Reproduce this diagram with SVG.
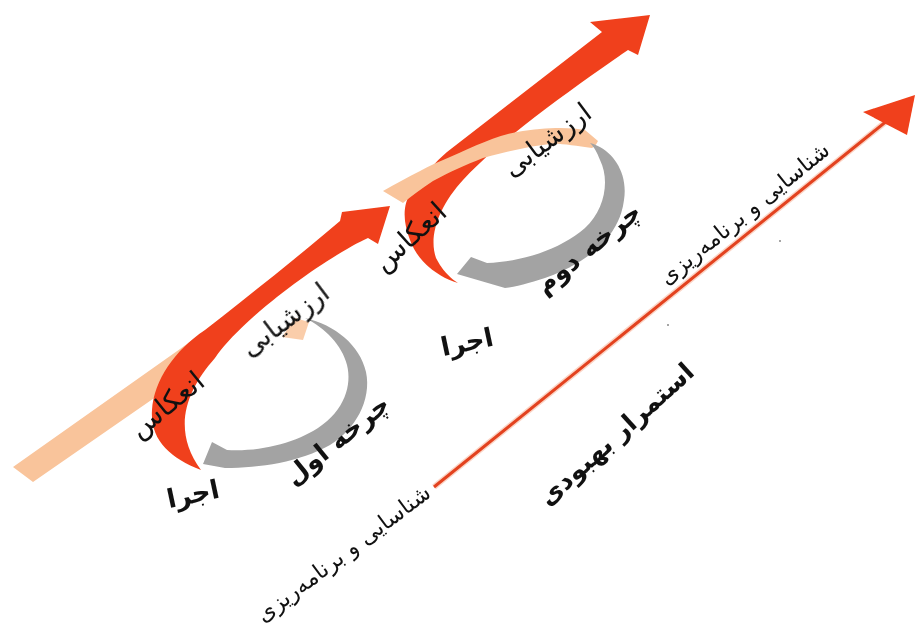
<svg xmlns="http://www.w3.org/2000/svg" width="915" height="630" viewBox="0 0 915 630">
<defs>
<style>
.red{fill:#f0401a}
.peach{fill:#f9c49b}
.gray{fill:#a3a3a3}
.t{font-family:"DejaVu Sans","Noto Sans",sans-serif;fill:#111;text-anchor:middle}
.s1{font-size:28px}
.s2{font-size:27px}
.s3{font-size:22.5px}
.big{font-size:26px;font-weight:bold}
.big2{font-size:25.5px;font-weight:bold}
</style>
<filter id="soft" x="-5%" y="-5%" width="110%" height="110%"><feGaussianBlur stdDeviation="0.7"/></filter>
</defs>
<rect width="915" height="630" fill="#ffffff"/>
<g id="cycle1" filter="url(#soft)">
<path class="peach" d="M13,467 L33,482 L160,394 C190,372 220,345 245,320 L240,305 C225,315 200,335 180,349 Z"/>
<polygon class="peach" points="282,337 295,318 309,322 303,340" opacity="0.85"/>
<path class="red" d="M390,206 L378,244 L368,238 C330,255 245,315 215,358 C185,392 172,430 201,470 C170,458 150,440 152,410 C154,380 175,350 205,330 C250,295 300,255 340,221 L342,212 Z"/>
<path class="gray" d="M305,318 C335,325 360,345 366,372 C372,400 355,430 330,445 C300,462 260,468 225,468 L203,464 L212,442 L227,450 C260,452 295,443 318,428 C345,410 352,385 347,365 C342,345 325,328 305,318 Z"/>
</g>
<g id="cycle2" filter="url(#soft)">
<path class="red" d="M650,15 L638,55 L628,50 C570,90 500,140 463,180 C440,205 428,235 436,258 C442,270 450,278 458,283 C438,277 418,262 410,240 C403,222 402,205 412,190 C425,175 435,162 447,152 L602,32 L590,22 Z"/>
<path class="peach" d="M383,191 C410,176 430,165 450,157 C475,146 495,136 517,132 C545,127 570,127 585,130 L598,141 C596,145 594,147 592,148 C575,146 560,143 550,144 C525,147 505,152 483,158 C465,165 450,172 433,181 C422,188 412,196 403,203 Z"/>
<path class="gray" d="M590,143 C615,150 628,175 624,200 C620,235 590,262 545,278 C530,283 515,287 505,288 L457,274 L471,257 L487,263 C520,262 560,250 585,228 C605,210 610,180 600,160 C597,152 594,147 590,143 Z"/>
</g>
<g id="connectors">
<line x1="434" y1="487" x2="888" y2="120" stroke="#f7a98c" stroke-width="6" opacity="0.5"/>
<line x1="434" y1="487" x2="888" y2="120" stroke="#e3421f" stroke-width="3"/>
<polygon points="915,95 863,112 907,135" fill="#f0401a" filter="url(#soft)"/>
</g>
<g id="labels">
<text class="t s1" transform="translate(167,405) rotate(-39)" dy="9">انعکاس</text>
<text class="t s2" transform="translate(285,320) rotate(-37)" dy="9">ارزشیابی</text>
<text class="t s1" transform="translate(410,237) rotate(-42)" dy="9">انعکاس</text>
<text class="t s2" transform="translate(547,140) rotate(-37)" dy="9">ارزشیابی</text>
<text class="t big" transform="translate(337,440) rotate(-39)" dy="9">چرخه اول</text>
<text class="t big" transform="translate(588,248) rotate(-39)" dy="9">چرخه دوم</text>
<text class="t big" transform="translate(193,494) rotate(-12)" dy="9">اجرا</text>
<text class="t big" transform="translate(467,342) rotate(-12)" dy="9">اجرا</text>
<text class="t big2" transform="translate(616,434) rotate(-42)" dy="9">استمرار بهبودی</text>
<text class="t s3" transform="translate(343,553) rotate(-37)" dy="8">شناسایی و برنامه‌ریزی</text>
<text class="t s3" transform="translate(744,213) rotate(-39)" dy="8">شناسایی و برنامه‌ریزی</text>
</g>
<g id="specks" fill="#888">
<circle cx="780" cy="241" r="1"/>
<circle cx="668" cy="325" r="1"/>
</g>
</svg>
